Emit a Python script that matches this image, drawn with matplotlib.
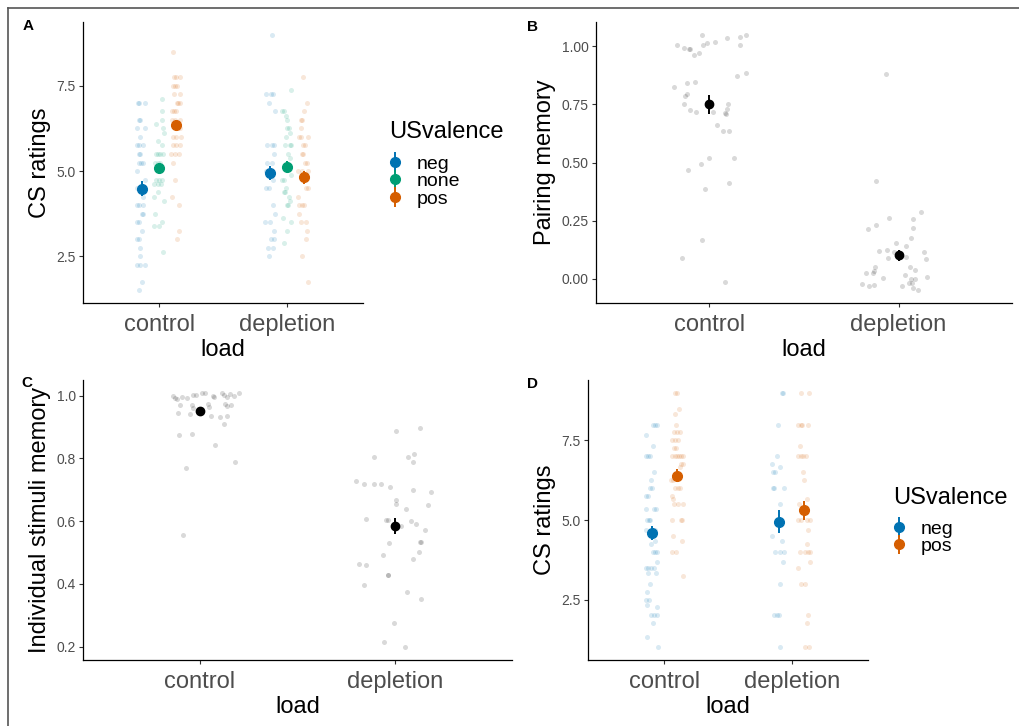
"""
Four-panel evaluative conditioning figure: CS ratings, pairing memory and
stimulus memory by load condition (control vs depletion).
"""
import numpy as np
import matplotlib
matplotlib.use("Agg")
import matplotlib.pyplot as plt
from matplotlib.lines import Line2D

plt.rcParams["font.family"] = ["Liberation Sans", "DejaVu Sans"]

W, H = 1019, 726

load_levels = ["control", "depletion"]
col_neg, col_none, col_pos = "#0072B2", "#009E73", "#D55E00"
col_gray = "black"

# ---------------- panel A: CS ratings, three valences ----------------
A_neg_ctrl_y = [7.0, 7.0, 7.0, 6.5, 6.5, 6.25, 6.25, 6.0, 5.75, 5.75, 5.75, 5.5, 5.5, 5.25, 5.25, 5.25, 5.0,
                4.75, 4.5, 4.5, 4.25, 4.0, 4.0, 4.0, 3.75, 3.75, 3.5, 3.5, 3.25, 3.0, 3.0, 2.75, 2.5, 2.25,
                2.25, 2.25, 1.75, 1.5]
A_neg_ctrl_dx = [-0.037, -0.024, 0.021, -0.029, -0.018, -0.042, 0.021, -0.021, -0.042, -0.024, 0.008, -0.029,
                 -0.021, -0.029, -0.011, 0.005, -0.039, 0.021, -0.042, -0.024, 0.008, -0.042, -0.029, 0.003,
                 -0.003, 0.003, -0.042, -0.024, -0.003, -0.042, -0.029, -0.018, -0.021, -0.042, -0.021, 0.018,
                 -0.003, -0.024]
A_none_ctrl_y = [7.125, 6.75, 6.5, 6.375, 6.25, 6.125, 5.875, 5.75, 5.5, 5.5, 5.5, 5.5, 5.25, 5.25, 5.25, 4.75,
                 4.75, 4.75, 4.625, 4.625, 4.625, 4.375, 4.25, 4.125, 3.75, 3.5, 3.375, 3.375, 2.625]
A_none_ctrl_dx = [0.018, 0.018, 0.018, -0.026, 0.026, 0.034, -0.013, 0.021, -0.029, -0.008, 0.008, 0.029, -0.032,
                  -0.011, 0.008, -0.026, 0.0, 0.024, -0.039, -0.008, 0.013, -0.011, -0.042, 0.034, -0.034, 0.021,
                  -0.039, 0.0, 0.032]
A_pos_ctrl_y = [8.5, 7.75, 7.75, 7.75, 7.5, 7.5, 7.5, 7.25, 7.25, 7.0, 7.0, 7.0, 6.75, 6.75, 6.75, 6.5, 6.5, 6.5,
                6.25, 6.25, 6.0, 6.0, 6.0, 5.75, 5.75, 5.75, 5.5, 5.5, 5.5, 5.25, 4.75, 4.25, 4.0, 3.25, 3.0]
A_pos_ctrl_dx = [-0.026, -0.016, 0.0, 0.026, -0.026, -0.011, 0.008, -0.021, 0.026, 0.003, 0.016, 0.032, -0.034,
                 -0.018, -0.003, -0.034, -0.008, 0.029, 0.013, 0.032, -0.029, -0.003, 0.037, -0.026, -0.005,
                 0.032, -0.045, -0.011, 0.018, -0.024, -0.011, -0.034, 0.024, 0.021, 0.005]
A_neg_dep_y = [9.0, 7.25, 7.25, 7.25, 7.0, 6.75, 5.75, 5.75, 5.75, 5.5, 5.25, 5.25, 5.0, 5.0, 4.75, 4.5, 4.5,
               4.0, 3.75, 3.5, 3.5, 3.25, 3.0, 3.0, 2.75, 2.75, 2.5]
A_neg_dep_dx = [0.018, -0.032, 0.008, 0.026, -0.008, 0.042, -0.024, 0.021, 0.034, 0.032, -0.024, 0.018, -0.029,
                0.008, 0.024, -0.026, -0.003, 0.029, 0.039, -0.034, 0.003, 0.037, 0.011, 0.037, -0.016, 0.029,
                -0.008]
A_none_dep_y = [7.375, 6.75, 6.75, 6.625, 6.5, 6.25, 6.25, 6.125, 6.0, 5.75, 5.75, 5.75, 5.5, 5.375, 5.25, 4.875,
                4.75, 4.75, 4.5, 4.375, 4.375, 4.25, 4.125, 4.0, 4.0, 3.625, 3.5, 3.25, 2.875]
A_none_dep_dx = [0.034, -0.034, -0.021, -0.003, 0.003, 0.005, 0.016, 0.024, -0.008, -0.013, 0.026, 0.034, 0.013,
                 0.029, 0.003, 0.034, -0.039, -0.021, -0.005, -0.024, -0.013, 0.021, 0.029, 0.005, 0.008, -0.029,
                 0.032, 0.0, -0.024]
A_pos_dep_y = [7.75, 7.0, 6.75, 6.5, 6.5, 6.25, 6.0, 6.0, 6.0, 5.75, 5.75, 5.5, 5.5, 5.25, 5.25, 5.0, 5.0, 5.0,
               4.5, 4.5, 4.25, 4.0, 4.0, 4.0, 3.75, 3.5, 3.5, 3.25, 3.0, 2.5, 1.75]
A_pos_dep_dx = [-0.008, 0.029, 0.003, -0.024, -0.013, -0.021, -0.034, -0.024, 0.037, -0.008, 0.011, -0.011,
                -0.005, 0.013, 0.026, -0.045, -0.013, 0.037, 0.018, 0.037, -0.042, -0.034, -0.013, 0.005, -0.034,
                -0.024, 0.018, 0.029, 0.018, -0.016, 0.034]
A_neg_mean, A_neg_se = [4.48, 4.95], [0.22, 0.20]
A_none_mean, A_none_se = [5.10, 5.12], [0.15, 0.16]
A_pos_mean, A_pos_se = [6.35, 4.82], [0.16, 0.19]

# ---------------- panel B: pairing memory ----------------
B_ctrl_y = [1.004, 0.991, 0.989, 0.989, 0.964, 0.970, 1.047, 1.007, 1.016, 1.017, 1.037, 1.041, 1.050, 1.007,
            0.827, 0.841, 0.847, 0.787, 0.794, 0.751, 0.724, 0.717, 0.717, 0.660, 0.634, 0.634, 0.715, 0.710,
            0.731, 0.750, 0.874, 0.886, 0.521, 0.495, 0.519, 0.469, 0.413, 0.385, 0.165, 0.089, -0.016]
B_ctrl_dx = [-0.169, -0.137, -0.104, -0.109, -0.082, -0.056, -0.042, -0.033, -0.012, 0.028, 0.092, 0.163, 0.195,
             0.162, -0.190, -0.117, -0.077, -0.130, -0.120, -0.136, -0.103, -0.073, 0.017, 0.038, 0.071, 0.106,
             0.083, 0.090, 0.092, 0.099, 0.146, 0.193, -0.002, -0.047, 0.132, -0.113, 0.101, -0.026, -0.038,
             -0.146, 0.080]
B_dep_y = [0.883, 0.422, 0.288, 0.259, 0.255, 0.233, 0.215, 0.216, 0.173, 0.153, 0.140, 0.120, 0.123, 0.116,
           0.113, 0.089, 0.092, 0.084, 0.049, 0.034, 0.050, 0.037, 0.026, 0.023, 0.017, 0.001, 0.009, -0.003,
           -0.003, -0.019, -0.023, -0.031, -0.026, -0.030, -0.040, -0.047, -0.019]
B_dep_dx = [-0.068, -0.118, 0.118, -0.050, 0.075, -0.118, -0.162, 0.075, 0.064, -0.014, 0.038, -0.101, -0.059,
            -0.024, 0.137, -0.057, 0.037, 0.146, -0.122, -0.130, 0.063, 0.085, -0.170, -0.137, 0.035, -0.082,
            0.148, 0.064, 0.085, 0.071, -0.195, -0.157, -0.129, 0.019, 0.078, 0.103, 0.057]
B_mean, B_se = [0.75, 0.10], [0.04, 0.025]

# ---------------- panel C: individual stimuli memory ----------------
C_ctrl_y = [1.000, 0.993, 0.990, 0.996, 0.992, 1.002, 1.003, 1.007, 1.007, 1.000, 0.997, 1.007, 1.003, 0.997,
            1.006, 1.000, 1.009, 0.969, 0.971, 0.961, 0.942, 0.944, 0.975, 0.963, 0.936, 0.933, 0.975, 0.967,
            0.971, 0.936, 0.911, 0.874, 0.879, 0.842, 0.787, 0.769, 0.555]
C_ctrl_dx = [-0.141, -0.126, -0.119, -0.090, -0.065, -0.037, -0.020, 0.012, 0.024, 0.068, 0.070, 0.111, 0.123,
             0.136, 0.152, 0.174, 0.199, -0.104, -0.039, -0.034, -0.049, -0.111, 0.039, 0.048, 0.058, 0.104,
             0.129, 0.136, 0.158, 0.140, 0.124, -0.107, -0.041, 0.075, 0.181, -0.070, -0.089]
C_dep_y = [0.886, 0.898, 0.806, 0.803, 0.815, 0.787, 0.729, 0.718, 0.719, 0.717, 0.709, 0.700, 0.694, 0.666,
           0.653, 0.652, 0.637, 0.606, 0.603, 0.603, 0.600, 0.592, 0.585, 0.571, 0.534, 0.534, 0.530, 0.500,
           0.491, 0.480, 0.462, 0.460, 0.428, 0.428, 0.397, 0.375, 0.352, 0.276, 0.215, 0.198]
C_dep_dx = [0.003, 0.128, -0.106, 0.068, 0.100, 0.090, -0.199, -0.158, -0.109, -0.073, -0.026, 0.094, 0.187,
            0.007, 0.007, 0.169, 0.056, -0.148, -0.044, -0.035, 0.082, 0.107, 0.031, 0.155, 0.131, 0.128, -0.032,
            0.124, -0.063, 0.090, -0.187, -0.147, -0.037, -0.034, -0.157, 0.063, 0.135, -0.007, -0.058, 0.049]
C_mean, C_se = [0.95, 0.585], [0.01, 0.026]

# ---------------- panel D: CS ratings, neg vs pos ----------------
D_neg_ctrl_y = [8, 8, 8, 7.67, 7.33, 7, 7, 7, 6.5, 6.25, 6, 6, 5.75, 5.75, 5.33, 5.33, 5.33, 5, 5, 5, 4.67, 4.67,
                4.33, 4.25, 4, 4, 4, 3.67, 3.5, 3.5, 3.5, 3.5, 3.33, 3.33, 3, 2.75, 2.5, 2.5, 2.33, 2.25, 2, 2, 2,
                1.75, 1.33, 1]
D_neg_ctrl_dx = [0.010, 0.023, 0.042, -0.044, 0.010, -0.044, -0.026, -0.010, 0.021, -0.003, -0.013, 0.003,
                 -0.042, -0.026, -0.047, 0.016, 0.031, -0.037, -0.021, -0.010, -0.042, 0.026, 0.026, -0.005,
                 0.010, 0.026, 0.042, 0.044, -0.047, -0.026, -0.005, 0.016, -0.026, 0.031, -0.016, -0.034, -0.042,
                 -0.018, -0.039, 0.039, -0.005, 0.021, 0.044, 0.010, -0.039, 0.047]
D_pos_ctrl_y = [9, 9, 8.5, 8.33, 8, 7.75, 7.75, 7.75, 7.5, 7.5, 7.5, 7.25, 7.25, 7, 7, 7, 7, 7, 7, 6.75, 6.75,
                6.67, 6.25, 6.25, 6, 6, 6, 5.75, 5.67, 5.5, 5.5, 5.5, 5, 5, 5, 4.5, 4.33, 4, 4, 3.25]
D_pos_ctrl_dx = [-0.016, -0.003, 0.018, -0.018, -0.010, -0.021, 0.003, 0.026, -0.037, -0.016, 0.005, -0.026,
                 -0.005, -0.039, -0.018, 0.0, 0.013, 0.034, 0.050, 0.031, 0.047, 0.026, -0.050, -0.034, -0.013,
                 0.008, 0.026, -0.037, -0.029, -0.023, 0.010, 0.050, -0.039, 0.029, 0.039, -0.034, 0.042, -0.042,
                 -0.008, 0.047]
D_neg_dep_y = [9, 9, 8, 7, 6.75, 6.67, 6.5, 6.5, 6, 6, 6, 5.5, 5, 4.5, 4.33, 4, 4, 4, 3.67, 3, 2, 2, 2, 1]
D_neg_dep_dx = [0.026, 0.034, -0.008, -0.013, -0.052, 0.005, -0.044, -0.031, -0.050, -0.037, 0.042, 0.008,
                -0.010, -0.055, 0.021, -0.031, 0.005, 0.037, 0.034, 0.008, -0.039, -0.013, 0.003, 0.008]
D_pos_dep_y = [9, 9, 8, 8, 8, 8, 7.33, 7, 7, 7, 7, 6.5, 6.25, 5.67, 5.5, 5, 5, 5, 5, 4.67, 4.25, 4, 4, 4, 4,
               3.67, 3.5, 3, 3, 2, 1.75, 1, 1]
D_pos_dep_dx = [-0.029, 0.039, -0.052, -0.029, -0.016, 0.031, -0.034, -0.052, -0.029, -0.008, 0.013, -0.013,
                -0.005, 0.021, -0.042, -0.052, -0.029, 0.023, 0.044, 0.031, 0.021, -0.037, 0.008, 0.026, 0.044,
                0.044, -0.047, -0.029, 0.005, 0.029, 0.018, 0.008, 0.039]
D_neg_mean, D_neg_se = [4.59, 4.94], [0.22, 0.36]
D_pos_mean, D_pos_se = [6.39, 5.30], [0.20, 0.29]


def px_rect(left, top, right, bottom):
    return [left / W, 1 - bottom / H, (right - left) / W, (bottom - top) / H]


def style(ax, ylim, yticks, yfmt, ylabel):
    for s in ("top", "right"):
        ax.spines[s].set_visible(False)
    for s in ("left", "bottom"):
        ax.spines[s].set_linewidth(0.9)
        ax.spines[s].set_color("black")
    ax.set_xlim(0.4, 2.6)
    ax.set_ylim(*ylim)
    ax.set_xticks([1, 2])
    ax.set_xticklabels(load_levels)
    ax.set_yticks(yticks)
    ax.set_yticklabels([yfmt.format(t) for t in yticks])
    ax.tick_params(axis="both", length=2.6, width=0.8, color="#333333", labelcolor="#4D4D4D")
    ax.tick_params(axis="y", labelsize=10, pad=2.5)
    ax.tick_params(axis="x", labelsize=17, pad=5)
    ax.set_xlabel("load", fontsize=17, labelpad=2.5)
    ax.set_ylabel(ylabel, fontsize=17, labelpad=4)


def group(ax, ys, dxs, center, color, alpha=0.15):
    ax.scatter(center + np.array(dxs), ys, s=13, color=color, alpha=alpha, linewidths=0, zorder=2)


def means(ax, offset, m, se, color, ms, label=None):
    xs = np.array([1, 2]) + offset
    return ax.errorbar(xs, m, yerr=se, fmt="o", color=color, ms=ms, elinewidth=1.4,
                       capsize=0, zorder=4, label=label)


def add_legend(ax, handles, labels, x, y_title, y_top):
    fig = ax.figure
    fig.text(x / W, 1 - y_title / H, "USvalence", fontsize=17, ha="left", va="center")
    ax.legend(handles, labels, loc="upper left",
              bbox_to_anchor=((x - 3) / W, 1 - y_top / H), bbox_transform=fig.transFigure,
              frameon=False, fontsize=14, handlelength=0.9, handletextpad=0.7,
              labelspacing=0.0, borderpad=0, borderaxespad=0)


fig = plt.figure(figsize=(W / 100, H / 100), dpi=100)

# A
axA = fig.add_axes(px_rect(83, 22, 363, 303))
dA = 0.1333
group(axA, A_neg_ctrl_y, A_neg_ctrl_dx, 1 - dA, col_neg)
group(axA, A_none_ctrl_y, A_none_ctrl_dx, 1, col_none)
group(axA, A_pos_ctrl_y, A_pos_ctrl_dx, 1 + dA, col_pos)
group(axA, A_neg_dep_y, A_neg_dep_dx, 2 - dA, col_neg)
group(axA, A_none_dep_y, A_none_dep_dx, 2, col_none)
group(axA, A_pos_dep_y, A_pos_dep_dx, 2 + dA, col_pos)
hA = [means(axA, -dA, A_neg_mean, A_neg_se, col_neg, 7),
      means(axA, 0, A_none_mean, A_none_se, col_none, 7),
      means(axA, dA, A_pos_mean, A_pos_se, col_pos, 7)]
style(axA, (1.125, 9.375), [2.5, 5.0, 7.5], "{:.1f}", "CS ratings")
add_legend(axA, hA, ["neg", "none", "pos"], 389, 132, 155)

# B
axB = fig.add_axes(px_rect(596, 22, 1012, 303))
group(axB, B_ctrl_y, B_ctrl_dx, 1, col_gray)
group(axB, B_dep_y, B_dep_dx, 2, col_gray)
means(axB, 0, B_mean, B_se, col_gray, 6)
style(axB, (-0.105, 1.105), [0.0, 0.25, 0.5, 0.75, 1.0], "{:.2f}", "Pairing memory")

# C
axC = fig.add_axes(px_rect(83, 380, 512, 660))
group(axC, C_ctrl_y, C_ctrl_dx, 1, col_gray)
group(axC, C_dep_y, C_dep_dx, 2, col_gray)
means(axC, 0, C_mean, C_se, col_gray, 6)
style(axC, (0.157, 1.05), [0.2, 0.4, 0.6, 0.8, 1.0], "{:.1f}", "Individual stimuli memory")

# D
axD = fig.add_axes(px_rect(588, 380, 868, 660))
dD = 0.1
group(axD, D_neg_ctrl_y, D_neg_ctrl_dx, 1 - dD, col_neg)
group(axD, D_pos_ctrl_y, D_pos_ctrl_dx, 1 + dD, col_pos)
group(axD, D_neg_dep_y, D_neg_dep_dx, 2 - dD, col_neg)
group(axD, D_pos_dep_y, D_pos_dep_dx, 2 + dD, col_pos)
hD = [means(axD, -dD, D_neg_mean, D_neg_se, col_neg, 7),
      means(axD, dD, D_pos_mean, D_pos_se, col_pos, 7)]
style(axD, (0.6, 9.4), [2.5, 5.0, 7.5], "{:.1f}", "CS ratings")
add_legend(axD, hD, ["neg", "pos"], 893, 498, 520)

# panel tags
for tag, (x, y) in {"A": (28, 26), "B": (533, 27), "C": (27, 383), "D": (533, 384)}.items():
    fig.text(x / W, 1 - y / H, tag, fontsize=11, fontweight="bold", ha="center", va="center", zorder=10)

# outer frame (top and left edges of the screenshot)
fig.add_artist(Line2D([8 / W, 1], [1 - 7.5 / H, 1 - 7.5 / H], transform=fig.transFigure,
                      color="#555555", lw=1.2))
fig.add_artist(Line2D([8 / W, 8 / W], [1 - 7.5 / H, 0], transform=fig.transFigure,
                      color="#555555", lw=1.2))

fig.savefig("out.png", dpi=100)
